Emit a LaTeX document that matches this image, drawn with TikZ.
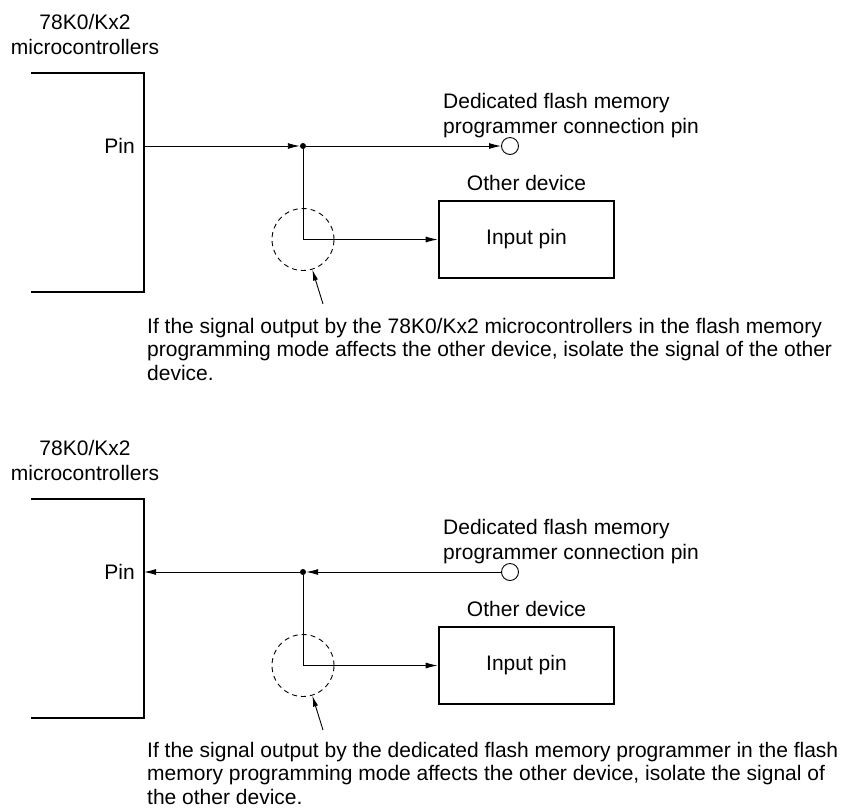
\documentclass[tikz,border=0pt]{standalone}
\usepackage{fontspec}
\setmainfont{Liberation Sans}
\usetikzlibrary{arrows.meta,positioning}

\begin{document}
\begin{tikzpicture}[x=1pt, y=-1pt,
  lbl/.style={font=\fontsize{21}{25}\selectfont, inner sep=0pt, align=center},
  note/.style={font=\fontsize{21}{23.5}\selectfont, inner sep=0pt, align=left,
               anchor=base west},
  chip/.style={line width=2.6pt},
  devbox/.style={draw, line width=2.6pt, minimum width=175pt, minimum height=77pt,
                 font=\fontsize{21}{25}\selectfont},
  pinhole/.style={draw, circle, minimum size=17pt, inner sep=0pt, line width=0.9pt},
  dot/.style={circle, fill, minimum size=6pt, inner sep=0pt},
  zone/.style={draw, circle, minimum size=62pt, inner sep=0pt,
               dash pattern=on 5pt off 4pt, line width=0.9pt},
  wire/.style={line width=0.9pt},
  arr/.style={wire, -{Latex[length=12pt,width=6pt]}},
  ptr/.style={line width=0.9pt, -{Latex[length=11pt,width=5pt]}}
]
\useasboundingbox (0,0) rectangle (849,807);

% Upper: microcontroller drives the line
\begin{scope}
  \node[lbl, anchor=base] (ttlA) at (85,54) {78K0/Kx2\\microcontrollers};
  \draw[chip] (31,73) -| (144,292) -- (31,292);
  \coordinate (pinA) at (144,146);
  \node[lbl, left=9pt of pinA] (pinlblA) {Pin};
  \node[dot] (jA) at (303,146) {};
  \node[pinhole] (fpA) at (510,146) {};
  \node[lbl, align=left, anchor=base west] (fplblA) at (443,133)
    {Dedicated flash memory\\programmer connection pin};
  \node[devbox] (devA) at (526.5,239.5) {Input pin};
  \node[lbl, above=8.5pt of devA] (devlblA) {Other device};
  \coordinate (bendA) at (jA |- devA);
  \node[zone] (zoneA) at (bendA) {};
  \coordinate (tailA) at (323,304);

  \draw[arr] (pinA) -- (jA);
  \draw[arr] (jA) -- (fpA);
  \draw[arr] (jA) |- (devA);
  \draw[ptr] (tailA) -- (zoneA);

  \node[note] (noteA) at (147,380)
    {If the signal output by the 78K0/Kx2 microcontrollers in the flash memory\\
     programming mode affects the other device, isolate the signal of the other\\
     device.};
\end{scope}

% Lower: programmer drives the line
\begin{scope}[shift={(0,426)}]
  \node[lbl, anchor=base] (ttlB) at (85,54) {78K0/Kx2\\microcontrollers};
  \draw[chip] (31,73) -| (144,292) -- (31,292);
  \coordinate (pinB) at (144,146);
  \node[lbl, left=9pt of pinB] (pinlblB) {Pin};
  \node[dot] (jB) at (303,146) {};
  \node[pinhole] (fpB) at (510,146) {};
  \node[lbl, align=left, anchor=base west] (fplblB) at (443,133)
    {Dedicated flash memory\\programmer connection pin};
  \node[devbox] (devB) at (526.5,239.5) {Input pin};
  \node[lbl, above=8.5pt of devB] (devlblB) {Other device};
  \coordinate (bendB) at (jB |- devB);
  \node[zone] (zoneB) at (bendB) {};
  \coordinate (tailB) at (323,304);

  \draw[arr] (jB) -- (pinB);
  \draw[arr] (fpB) -- (jB);
  \draw[arr] (jB) |- (devB);
  \draw[ptr] (tailB) -- (zoneB);

  \node[note] (noteB) at (147,378)
    {If the signal output by the dedicated flash memory programmer in the flash\\
     memory programming mode affects the other device, isolate the signal of\\
     the other device.};
\end{scope}
\end{tikzpicture}
\end{document}
